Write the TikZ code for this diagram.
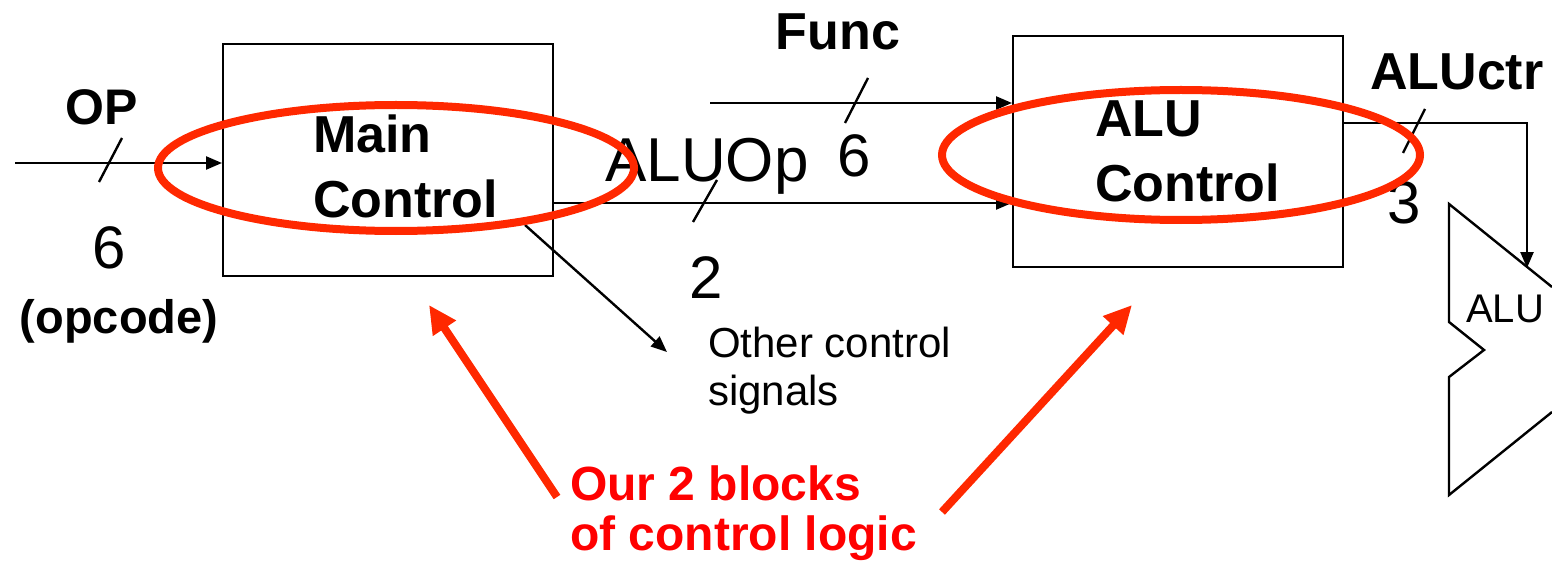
\documentclass[tikz,border=0pt]{standalone}
\usepackage{fontspec}
\setmainfont{Liberation Sans}
\usetikzlibrary{arrows.meta}
\definecolor{hilite}{RGB}{255,40,0}
\definecolor{notered}{RGB}{255,0,0}
\tikzset{
  block/.style={draw, line width=2pt, minimum width=330pt, minimum height=231pt, inner sep=0pt},
  wire/.style={line width=2.4pt},
  sig/.style={wire, -{Triangle[length=16pt,width=13pt]}},
  boldlbl/.style={font=\fontsize{52}{52}\selectfont\bfseries, inner sep=0pt},
  numlbl/.style={font=\fontsize{60}{60}\selectfont, inner sep=0pt},
  plainlbl/.style={font=\fontsize{42}{42}\selectfont, inner sep=0pt},
  ring/.style={draw=hilite, line width=8pt},
  pointer/.style={draw=hilite, line width=8pt, -{Triangle[length=28pt,width=26pt]}},
  remark/.style={font=\fontsize{48}{48}\selectfont\bfseries, text=notered, inner sep=0pt}
}
\begin{document}
\begin{tikzpicture}[x=1pt,y=-1pt]
\useasboundingbox (0,0) rectangle (1552,564);

% control blocks
\node[block] (main) at (388,160) {};
\node[block] (aluctl) at (1178,151.5) {};

\node[boldlbl, anchor=base west] (mainA) at (313,153) {Main};
\node[boldlbl, anchor=base west] (mainB) at (313,218) {Control};
\node[boldlbl, anchor=base west] (aluA) at (1095,137) {ALU};
\node[boldlbl, anchor=base west] (aluB) at (1095,202) {Control};

% ALU body
\draw[line width=2.4pt] (1552,287) -- (1449,204) -- (1449,322) -- (1484,350)
  -- (1449,377) -- (1449,495) -- (1552,412);
\coordinate (aluin) at (1527,268);
\node[font=\fontsize{40}{40}\selectfont, inner sep=0pt, anchor=base west] (alutxt) at (1466,322) {ALU};

% opcode input
\coordinate (opin) at (15,163);
\draw[sig] (opin) -- (opin -| main.west);
\draw[wire] (99,182) -- (122,138);
\node[boldlbl, font=\fontsize{50}{50}\selectfont\bfseries, anchor=base] (oplbl) at (102,125) {OP};
\node[numlbl, anchor=base] (opw) at (109,268) {6};
\node[boldlbl, font=\fontsize{47}{47}\selectfont\bfseries, anchor=base] (opc) at (119,333) {(opcode)};

% function field input
\coordinate (funcin) at (710,103);
\draw[sig] (funcin) -- (funcin -| aluctl.west);
\draw[wire] (845,123) -- (868,78);
\node[boldlbl, anchor=base] (funclbl) at (838,50) {Func};
\node[numlbl, anchor=base] (funcw) at (854,177) {6};

% ALUOp bus
\coordinate (opout) at (553,203);
\draw[sig] (opout) -- (opout -| aluctl.west);
\draw[wire] (693,222) -- (717,180);
\node[font=\fontsize{62}{62}\selectfont, inner sep=0pt, anchor=base west] (aluoplbl) at (605,182) {ALUOp};
\node[numlbl, anchor=base] (aluopw) at (706,298) {2};

% other control signals
\coordinate (othfrom) at (525,225);
\coordinate (othto) at (667,352);
\draw[sig] (othfrom) -- (othto);
\node[plainlbl, anchor=base west] (oth1) at (708,357) {Other control};
\node[plainlbl, anchor=base west] (oth2) at (708,405) {signals};

% ALUctr bus
\coordinate (ctrout) at (1343,123);
\draw[sig] (ctrout) -- (aluin |- ctrout) -- (aluin);
\draw[wire] (1403,153) -- (1425,109);
\node[boldlbl, anchor=base west] (ctrlbl) at (1370,90) {ALUctr};
\node[numlbl, anchor=base] (ctrw) at (1404,223) {3};

% highlighting
\draw[ring] (396,168) ellipse [x radius=238pt, y radius=63pt];
\draw[ring] (1181,155) ellipse [x radius=239pt, y radius=65pt];
\coordinate (tailA) at (557,497);
\coordinate (headA) at (429,305);
\coordinate (tailB) at (942,512);
\coordinate (headB) at (1132,305);
\draw[pointer] (tailA) -- (headA);
\draw[pointer] (tailB) -- (headB);
\node[remark, anchor=base west] (note1) at (570,500) {Our 2 blocks};
\node[remark, anchor=base west] (note2) at (570,550) {of control logic};
\end{tikzpicture}
\end{document}
